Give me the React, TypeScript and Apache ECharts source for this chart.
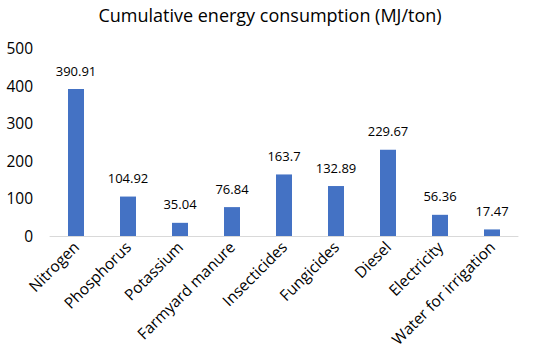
import React, { useEffect, useRef } from "react";
import * as echarts from "echarts";

const categories = ["Nitrogen", "Phosphorus", "Potassium", "Farmyard manure", "Insecticides", "Fungicides", "Diesel", "Electricity", "Water for irrigation"];
const values = [390.91, 104.92, 35.04, 76.84, 163.7, 132.89, 229.67, 56.36, 17.47];
const labels = ["390.91", "104.92", "35.04", "76.84", "163.7", "132.89", "229.67", "56.36", "17.47"];

export default function App() {
  const ref = useRef<HTMLDivElement>(null);
  useEffect(() => {
    const chart = echarts.init(ref.current!, null, { renderer: "svg" });
    const font = "'Open Sans', 'Noto Sans', sans-serif";
    chart.setOption({
      animation: false,
      title: {
        text: "Cumulative energy consumption (MJ/ton)",
        left: 265,
        textAlign: "center",
        top: 1,
        textStyle: { fontFamily: font, fontSize: 18, fontWeight: "normal", color: "#000" },
      },
      grid: { left: 50, right: 32, top: 48, bottom: 118 },
      xAxis: {
        type: "category",
        data: categories,
        axisLine: { lineStyle: { color: "#d9d9d9" } },
        axisTick: { show: false },
        axisLabel: { rotate: 45, interval: 0, fontFamily: font, fontSize: 15.5, color: "#000", margin: 8 },
      },
      yAxis: {
        type: "value",
        min: 0,
        max: 500,
        interval: 100,
        splitLine: { show: false },
        axisLine: { show: false },
        axisTick: { show: false },
        axisLabel: { fontFamily: font, fontSize: 15.5, color: "#000", margin: 17 },
      },
      series: [
        {
          type: "bar",
          data: values,
          barWidth: 16,
          itemStyle: { color: "#4472C4" },
          label: {
            show: true,
            position: "top",
            distance: 12,
            formatter: (p: any) => labels[p.dataIndex],
            fontFamily: font,
            fontSize: 13,
            color: "#000",
          },
        },
      ],
    });
    return () => chart.dispose();
  }, []);
  return <div ref={ref} style={{ width: 550, height: 354, position: "absolute", left: 0, top: 0 }} />;
}
